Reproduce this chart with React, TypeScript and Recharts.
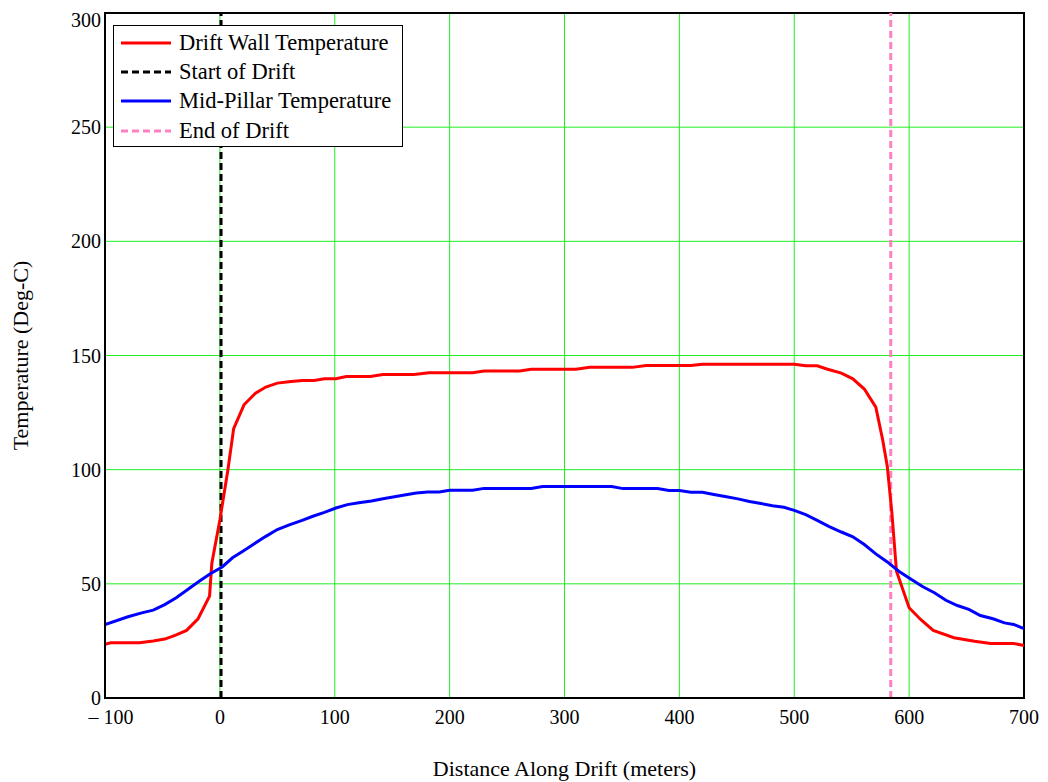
import React from 'react';
import { LineChart, Line, XAxis, YAxis, CartesianGrid, ReferenceLine, ReferenceArea } from 'recharts';

const wallDistance = [
  -100, -95, -70, -58, -48, -39, -29, -19, -9, -7, 0, 7, 12, 21, 31, 40, 50, 62, 72, 82, 91, 101, 110, 131, 142,
  169, 182, 220, 230, 261, 271, 310, 322, 359, 371, 410, 420, 500, 510, 520, 529, 541, 551, 561, 571, 577, 581,
  585, 589, 600, 610, 621, 639, 657, 671, 691, 700,
];
const wallTemp = [
  23.5, 24.2, 24.2, 25, 25.8, 27.4, 29.6, 34.7, 44.6, 59, 78, 100, 118, 128.4, 133.5, 136.2, 137.9, 138.6, 139.1,
  139.1, 139.8, 139.8, 140.8, 140.8, 141.7, 141.7, 142.4, 142.4, 143.2, 143.2, 144, 144, 144.8, 144.8, 145.6,
  145.6, 146.2, 146.2, 145.5, 145.5, 144, 142.3, 139.8, 135.3, 127.4, 113, 101.4, 81, 55.5, 39.5, 34.4, 29.6,
  26.4, 24.9, 23.9, 23.9, 23,
];

const pillarDistance = [
  -100, -80, -68, -58, -48, -38, -28, -18, -8, 2, 11, 20, 30, 40, 50, 61, 71, 81, 91, 101, 111, 121, 132, 142,
  152, 162, 171, 181, 191, 200, 220, 230, 271, 281, 341, 351, 381, 391, 400, 410, 420, 430, 441, 451, 461, 471,
  481, 491, 500, 510, 520, 530, 541, 551, 561, 571, 581, 591, 601, 612, 622, 632, 642, 652, 662, 673, 683, 691,
  700,
];
const pillarTemp = [
  32.2, 35.6, 37.3, 38.5, 40.9, 43.9, 47.5, 51.1, 54.5, 57.4, 61.4, 64.3, 67.6, 70.8, 73.8, 75.9, 77.7, 79.6,
  81.3, 83.2, 84.7, 85.5, 86.3, 87.3, 88.1, 89, 89.8, 90.2, 90.2, 91, 91, 91.8, 91.8, 92.6, 92.6, 91.7, 91.7,
  90.9, 90.9, 90.1, 90.1, 89.1, 88.1, 87.2, 86.1, 85.2, 84.2, 83.5, 82.2, 80.3, 77.8, 75.2, 72.7, 70.6, 67.2,
  63.1, 59.6, 55.5, 52.2, 48.7, 46.1, 42.8, 40.5, 38.8, 36.1, 34.7, 32.9, 32.2, 30.4,
];

const startOfDrift = 1;
const endOfDrift = 584;

const xTicks = [-100, 0, 100, 200, 300, 400, 500, 600, 700];
const yTicks = [0, 50, 100, 150, 200, 250, 300];

const legendItems = [
  { label: 'Drift Wall Temperature', color: '#ff0000', dash: '' },
  { label: 'Start of Drift', color: '#000000', dash: '7 4' },
  { label: 'Mid-Pillar Temperature', color: '#0000ff', dash: '' },
  { label: 'End of Drift', color: '#ff80c0', dash: '7 4' },
];

const wallData = wallDistance.map((x, i) => ({ x, y: wallTemp[i] }));
const pillarData = pillarDistance.map((x, i) => ({ x, y: pillarTemp[i] }));

const font = '"Liberation Serif", "Times New Roman", serif';

function DriftLegend() {
  return (
    <div
      style={{
        position: 'absolute',
        left: 105,
        top: 17,
        boxSizing: 'border-box',
        border: '1px solid #000',
        background: '#fff',
        width: 290,
        height: 122,
        padding: '2px 0 0 6px',
        fontFamily: font,
        fontSize: 22.5,
        color: '#000',
      }}
    >
      {legendItems.map((item) => (
        <div key={item.label} style={{ display: 'flex', alignItems: 'center', height: 29.3, whiteSpace: 'nowrap' }}>
          <svg width={52} height={6} style={{ marginRight: 7, flex: 'none' }}>
            <line x1={1} y1={3} x2={51} y2={3} stroke={item.color} strokeWidth={3} strokeDasharray={item.dash || undefined} />
          </svg>
          <span>{item.label}</span>
        </div>
      ))}
    </div>
  );
}

// negative labels hang their dash to the left, digits start near the tick
function XTick(props: any) {
  const { x, y, payload } = props;
  const v = payload.value as number;
  const text = v < 0 ? `– ${Math.abs(v)}` : `${v}`;
  return (
    <text x={x + (v < 0 ? 6 : 0)} y={y + 12} dy="0.71em" textAnchor="middle" fill="#000" fontFamily={font} fontSize={20}>
      {text}
    </text>
  );
}

export default function App() {
  return (
    <div style={{ position: 'relative', width: 1040, height: 774 }}>
      <LineChart width={1040} height={774} margin={{ top: 5, right: 24, left: 0, bottom: 0 }}>
        <CartesianGrid stroke="#22ee22" strokeWidth={1} horizontalValues={yTicks} verticalValues={xTicks} />
        <XAxis
          type="number"
          dataKey="x"
          domain={[-100, 700]}
          ticks={xTicks}
          allowDataOverflow
          height={84}
          tickLine={false}
          tickSize={0}
          tickMargin={0}
          stroke="#000"
          strokeWidth={2}
          tick={<XTick />}
          label={{ value: 'Distance Along Drift (meters)', position: 'insideBottom', offset: 6, fill: '#000', fontFamily: font, fontSize: 22 }}
        />
        <YAxis
          type="number"
          domain={[0, 300]}
          ticks={yTicks}
          width={97}
          tickLine={false}
          tickSize={0}
          tickMargin={4}
          stroke="#000"
          strokeWidth={2}
          tick={{ fill: '#000', fontFamily: font, fontSize: 20 }}
          label={{
            value: 'Temperature (Deg-C)',
            angle: -90,
            position: 'insideLeft',
            offset: 12,
            fill: '#000',
            fontFamily: font,
            fontSize: 22,
            style: { textAnchor: 'middle' },
          }}
        />
        <ReferenceArea x1={-100} x2={700} y1={0} y2={300} fill="none" stroke="#000" strokeWidth={2} />
        <ReferenceLine x={startOfDrift} stroke="#000" strokeWidth={3} strokeDasharray="7 4" />
        <ReferenceLine x={endOfDrift} stroke="#ff80c0" strokeWidth={3} strokeDasharray="7 4" />
        <Line data={wallData} dataKey="y" stroke="#ff0000" strokeWidth={3} dot={false} isAnimationActive={false} />
        <Line data={pillarData} dataKey="y" stroke="#0000ff" strokeWidth={3} dot={false} isAnimationActive={false} />
      </LineChart>
      <DriftLegend />
    </div>
  );
}
